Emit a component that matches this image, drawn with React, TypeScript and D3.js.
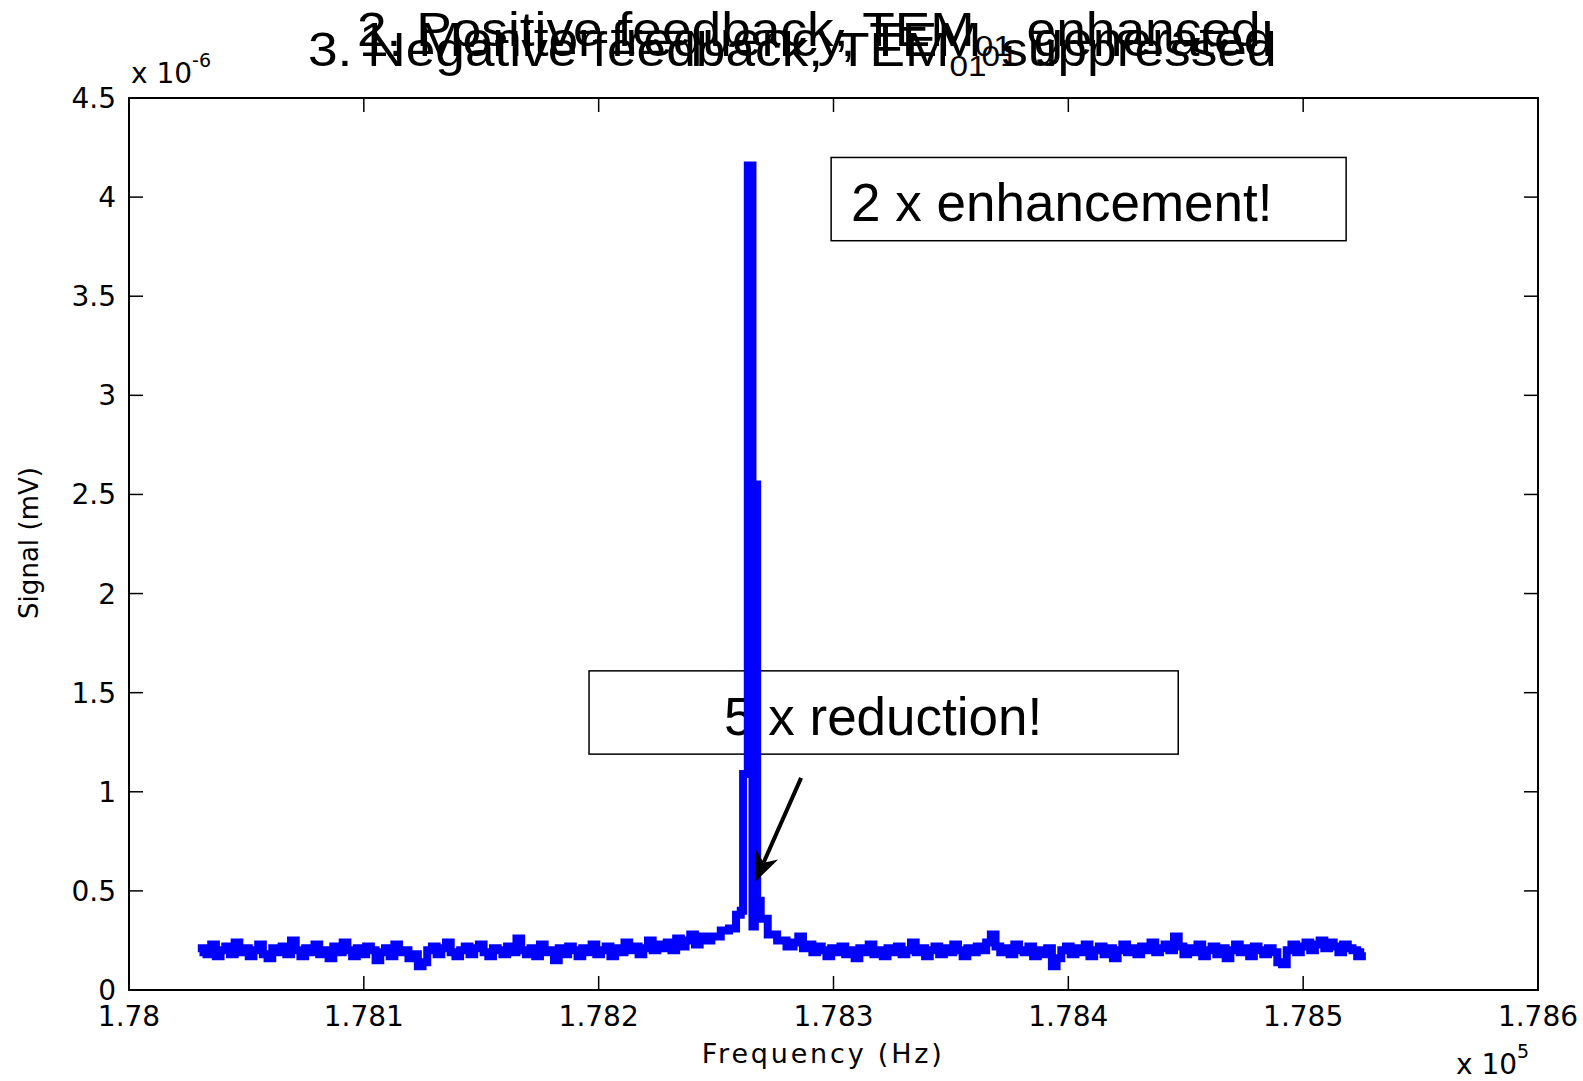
import React, { useRef, useEffect } from "react";
import * as d3 from "d3";

// signal in units of 1e-6 (axis multiplier), frequency in Hz
const leftStart = 178030;
const rightStart = 178284;
const noiseStep = 2;

const leftNoise = [
  0.19, 0.21, 0.18, 0.23, 0.17, 0.2, 0.22, 0.18, 0.24, 0.19,
  0.21, 0.17, 0.2, 0.23, 0.18, 0.16, 0.21, 0.19, 0.22, 0.18,
  0.25, 0.2, 0.17, 0.21, 0.19, 0.23, 0.18, 0.2, 0.16, 0.22,
  0.19, 0.24, 0.2, 0.17, 0.21, 0.18, 0.22, 0.2, 0.15, 0.19,
  0.21, 0.17, 0.23, 0.19, 0.2, 0.16, 0.18, 0.12, 0.14, 0.2,
  0.22, 0.18, 0.21, 0.24, 0.19, 0.17, 0.2, 0.22, 0.18, 0.21,
  0.23, 0.19, 0.17, 0.21, 0.2, 0.18, 0.22, 0.19, 0.26, 0.2,
  0.18, 0.21, 0.17, 0.23, 0.19, 0.2, 0.15, 0.21, 0.18, 0.22,
  0.2, 0.17, 0.21, 0.19, 0.23, 0.18, 0.2, 0.22, 0.17, 0.21,
  0.19, 0.24, 0.2, 0.22, 0.18, 0.21, 0.25, 0.2, 0.23, 0.21,
  0.24, 0.2, 0.26, 0.22, 0.25, 0.28, 0.23, 0.27,
];

const peakFreqs = [
  178246, 178250, 178254, 178257, 178260, 178261, 178262, 178263, 178264,
  178265, 178266, 178267, 178268, 178270, 178274, 178278, 178282,
];
const peakValues = [
  0.25, 0.27, 0.3, 0.31, 0.38, 0.4, 1.09, 1.09, 4.16,
  4.16, 0.32, 2.55, 0.45, 0.36, 0.28, 0.25, 0.22,
];

const rightNoise = [
  0.24, 0.27, 0.21, 0.23, 0.19, 0.22, 0.2, 0.17, 0.21, 0.19,
  0.22, 0.18, 0.2, 0.16, 0.21, 0.19, 0.23, 0.18, 0.2, 0.17,
  0.21, 0.19, 0.22, 0.18, 0.2, 0.24, 0.19, 0.21, 0.17, 0.2,
  0.22, 0.18, 0.21, 0.19, 0.23, 0.2, 0.17, 0.21, 0.19, 0.22,
  0.2, 0.24, 0.28, 0.22, 0.19, 0.21, 0.18, 0.23, 0.2, 0.19,
  0.22, 0.17, 0.2, 0.18, 0.21, 0.12, 0.16, 0.2, 0.22, 0.18,
  0.21, 0.19, 0.23, 0.17, 0.2, 0.22, 0.18, 0.21, 0.16, 0.2,
  0.23, 0.19, 0.21, 0.18, 0.22, 0.2, 0.24, 0.19, 0.21, 0.23,
  0.2, 0.27, 0.22, 0.18, 0.21, 0.19, 0.23, 0.17, 0.2, 0.22,
  0.18, 0.21, 0.16, 0.2, 0.23, 0.19, 0.21, 0.17, 0.22, 0.2,
  0.18, 0.21, 0.19, 0.14, 0.13, 0.2, 0.23, 0.19, 0.22, 0.24,
  0.2, 0.23, 0.25, 0.21, 0.24, 0.22, 0.19, 0.23, 0.21, 0.2,
  0.17, 0.19,
];

const xTicks = [178000, 178100, 178200, 178300, 178400, 178500, 178600];
const yTicks = [0, 0.5, 1, 1.5, 2, 2.5, 3, 3.5, 4, 4.5];

// overlapping slide titles: [start x, baseline y, head, tail]
const titleLines: [number, number, string, string][] = [
  [357, 46, "2. Positive feedback, TEM", " enhanced"],
  [359, 56, "1. Monitor frequency, TEM", " generated"],
  [308, 66, "3. Negative feedback, TEM", " suppressed"],
];

// text boxes in data coordinates: [f0, f1, v0, v1, textF, textV, label]
const boxes: [number, number, number, number, number, number, string][] = [
  [178299, 178518.3, 3.78, 4.2, 178307.5, 3.88, "2 x enhancement!"],
  [178195.9, 178446.8, 1.19, 1.61, 178253.4, 1.286, "5 x reduction!"],
];
const arrowFrom = [178286.2, 1.07];
const arrowTo = [178266.6, 0.545];

export default function App() {
  const svgRef = useRef<SVGSVGElement>(null);
  const width = 1583;
  const height = 1081;

  useEffect(() => {
    const svg = d3.select(svgRef.current);
    svg.selectAll("*").remove();

    const left = 129, right = 1538, top = 98, bottom = 990;
    const x = d3.scaleLinear().domain([178000, 178600]).range([left, right]);
    const y = d3.scaleLinear().domain([0, 4.5]).range([bottom, top]);

    const data: [number, number][] = [];
    leftNoise.forEach((v, i) => data.push([leftStart + i * noiseStep, v]));
    peakFreqs.forEach((f, i) => data.push([f, peakValues[i]]));
    rightNoise.forEach((v, i) => data.push([rightStart + i * noiseStep, v]));

    svg.append("rect").attr("width", width).attr("height", height).attr("fill", "white");

    const tickFont = "DejaVu Sans";

    // titles (stretched horizontally like the slide text)
    const sx = 1.11;
    titleLines.forEach(([tx, ty, head, tail]) => {
      const t = svg.append("text")
        .attr("transform", `translate(${tx},${ty}) scale(${sx},1)`)
        .style("font-family", "Liberation Sans, Arial")
        .style("font-size", "48px")
        .attr("fill", "black");
      t.append("tspan").text(head);
      t.append("tspan").attr("dy", 10).style("font-size", "30px").text("01");
      t.append("tspan").attr("dy", -10).text(tail);
    });

    // ticks on all sides, inward
    const tl = 14;
    const g = svg.append("g").attr("stroke", "black").attr("stroke-width", 1.5);
    xTicks.forEach((f) => {
      g.append("line").attr("x1", x(f)).attr("x2", x(f)).attr("y1", bottom).attr("y2", bottom - tl);
      g.append("line").attr("x1", x(f)).attr("x2", x(f)).attr("y1", top).attr("y2", top + tl);
    });
    yTicks.forEach((v) => {
      g.append("line").attr("x1", left).attr("x2", left + tl).attr("y1", y(v)).attr("y2", y(v));
      g.append("line").attr("x1", right).attr("x2", right - tl).attr("y1", y(v)).attr("y2", y(v));
    });

    svg.append("rect")
      .attr("x", left).attr("y", top)
      .attr("width", right - left).attr("height", bottom - top)
      .attr("fill", "none").attr("stroke", "black").attr("stroke-width", 2);

    svg.append("g").selectAll("text").data(xTicks).enter().append("text")
      .attr("x", (d) => x(d)).attr("y", bottom + 36)
      .attr("text-anchor", "middle")
      .style("font-family", tickFont).style("font-size", "28px")
      .text((d) => String(+(d / 1e5).toFixed(3)));

    svg.append("g").selectAll("text").data(yTicks).enter().append("text")
      .attr("x", left - 13).attr("y", (d) => y(d) + 10)
      .attr("text-anchor", "end")
      .style("font-family", tickFont).style("font-size", "28px")
      .text((d) => String(d));

    // exponent labels
    const e1 = svg.append("text").attr("x", left + 2).attr("y", top - 15)
      .style("font-family", tickFont).style("font-size", "28px");
    e1.append("tspan").text("x 10");
    e1.append("tspan").attr("dy", -16).style("font-size", "19px").text("-6");

    const e2 = svg.append("text").attr("x", right - 82).attr("y", 1074)
      .style("font-family", tickFont).style("font-size", "28px");
    e2.append("tspan").text("x 10");
    e2.append("tspan").attr("dy", -16).style("font-size", "19px").text("5");

    svg.append("text")
      .attr("x", x(178295)).attr("y", 1063)
      .attr("text-anchor", "middle")
      .style("font-family", tickFont).style("font-size", "27px")
      .attr("textLength", 240)
      .text("Frequency (Hz)");

    svg.append("text")
      .attr("transform", `translate(38,${(top + bottom) / 2 - 1}) rotate(-90)`)
      .attr("text-anchor", "middle")
      .style("font-family", tickFont).style("font-size", "26px")
      .attr("textLength", 152)
      .text("Signal (mV)");

    // annotation boxes
    boxes.forEach(([f0, f1, v0, v1, tf, tv, label]) => {
      svg.append("rect")
        .attr("x", x(f0)).attr("y", y(v1))
        .attr("width", x(f1) - x(f0)).attr("height", y(v0) - y(v1))
        .attr("fill", "none").attr("stroke", "black").attr("stroke-width", 1.5);
      svg.append("text")
        .attr("x", x(tf)).attr("y", y(tv))
        .style("font-family", "Liberation Sans, Arial")
        .style("font-size", "53px")
        .text(label);
    });

    // signal
    const line = d3.line<[number, number]>()
      .x((d) => x(d[0]))
      .y((d) => y(d[1]))
      .curve(d3.curveStep);
    svg.append("path")
      .datum(data)
      .attr("d", line)
      .attr("fill", "none")
      .attr("stroke", "#0000ff")
      .attr("stroke-width", 8)
      .attr("stroke-linejoin", "miter");

    // arrow
    const ax0 = x(arrowFrom[0]), ay0 = y(arrowFrom[1]);
    const ax1 = x(arrowTo[0]), ay1 = y(arrowTo[1]);
    const len = Math.hypot(ax1 - ax0, ay1 - ay0);
    const ux = (ax1 - ax0) / len, uy = (ay1 - ay0) / len;
    const nx = -uy, ny = ux;
    const hl = 30, hw = 12;
    svg.append("line")
      .attr("x1", ax0).attr("y1", ay0)
      .attr("x2", ax1 - ux * hl * 0.7).attr("y2", ay1 - uy * hl * 0.7)
      .attr("stroke", "black").attr("stroke-width", 4);
    const head = [
      [ax1, ay1],
      [ax1 - ux * hl + nx * hw, ay1 - uy * hl + ny * hw],
      [ax1 - ux * hl * 0.7, ay1 - uy * hl * 0.7],
      [ax1 - ux * hl - nx * hw, ay1 - uy * hl - ny * hw],
    ];
    svg.append("polygon")
      .attr("points", head.map((p) => p.join(",")).join(" "))
      .attr("fill", "black");
  }, []);

  return (
    <svg
      ref={svgRef}
      width={width}
      height={height}
      style={{ position: "absolute", left: 0, top: 0 }}
    />
  );
}
